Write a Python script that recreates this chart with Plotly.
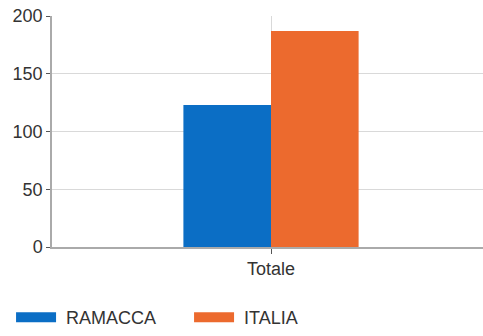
import plotly.graph_objects as go

categories = ["Totale"]
series_names = ["RAMACCA", "ITALIA"]
ramacca = [123]
italia = [187]
colors = ["#0b6ec5", "#ec6a2e"]
y_ticks = [0, 50, 100, 150, 200]

fig = go.Figure()
for name, vals, col in zip(series_names, [ramacca, italia], colors):
    fig.add_trace(go.Bar(x=categories, y=vals, name=name, marker_color=col,
                         marker_line_width=0, showlegend=False))
for name, col in zip(series_names, colors):
    fig.add_trace(go.Scatter(x=[None], y=[None], mode="lines", name="\u00a0" + name,
                             line=dict(color=col, width=10), showlegend=True))

fig.update_layout(
    width=483, height=336,
    margin=dict(l=52, r=0, t=16, b=88),
    paper_bgcolor="white", plot_bgcolor="white",
    barmode="group", bargap=0.6, bargroupgap=0,
    font=dict(family="Liberation Sans, Arial, sans-serif", size=18, color="#333333"),
    xaxis=dict(range=[-0.5, 0.484], showgrid=True, gridcolor="#d9d9d9",
               showline=True, linecolor="#aaaaaa", linewidth=1.5,
               ticks="outside", ticklen=5, tickcolor="#555555"),
    yaxis=dict(range=[0, 200], tickvals=y_ticks, showgrid=True, gridcolor="#d9d9d9",
               showline=True, linecolor="#aaaaaa", linewidth=1.5,
               ticks="outside", ticklen=4, tickcolor="#555555", zeroline=False),
    legend=dict(orientation="h", x=-0.095, xanchor="left", y=-0.226, yanchor="top",
                itemwidth=40, entrywidth=123, font=dict(size=18)),
)
fig.write_html("out.html")
